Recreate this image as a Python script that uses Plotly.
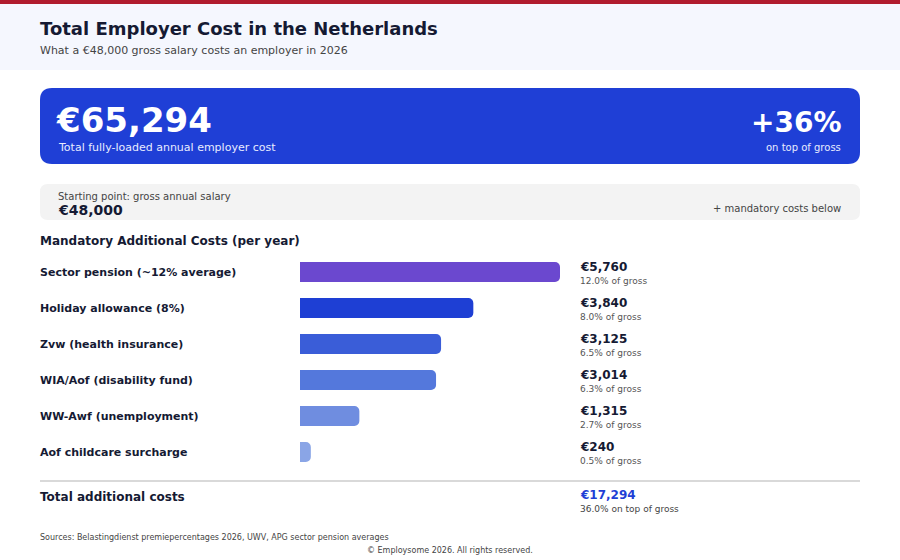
import plotly.graph_objects as go

W, H = 900, 560
FONT = "DejaVu Sans"

gross_salary = 48000
categories = ["Sector pension (~12% average)", "Holiday allowance (8%)", "Zvw (health insurance)",
              "WIA/Aof (disability fund)", "WW-Awf (unemployment)", "Aof childcare surcharge"]
amounts = [5760, 3840, 3125, 3014, 1315, 240]
bar_colors = ["#6B48CF", "#1E3FD4", "#3A5DD8", "#5478DC", "#6F8DE0", "#8AA5E6"]

total_add = sum(amounts)
total_cost = gross_salary + total_add
pct_total = total_add / gross_salary * 100


def X(px):
    return px / W


def Y(py):
    return 1 - py / H


def rrect(x0, y0, x1, y1, r):
    return (f"M {X(x0 + r)},{Y(y0)} L {X(x1 - r)},{Y(y0)} Q {X(x1)},{Y(y0)} {X(x1)},{Y(y0 + r)} "
            f"L {X(x1)},{Y(y1 - r)} Q {X(x1)},{Y(y1)} {X(x1 - r)},{Y(y1)} "
            f"L {X(x0 + r)},{Y(y1)} Q {X(x0)},{Y(y1)} {X(x0)},{Y(y1 - r)} "
            f"L {X(x0)},{Y(y0 + r)} Q {X(x0)},{Y(y0)} {X(x0 + r)},{Y(y0)} Z")


fig = go.Figure()
fig.add_trace(go.Bar(
    x=amounts, y=categories, orientation="h",
    marker=dict(color=bar_colors, line=dict(width=0)),
    hoverinfo="skip", showlegend=False,
))

shapes = [
    dict(type="rect", xref="paper", yref="paper", x0=0, x1=1, y0=Y(70), y1=Y(4),
         fillcolor="#F5F7FE", line=dict(width=0), layer="below"),
    dict(type="rect", xref="paper", yref="paper", x0=0, x1=1, y0=Y(4), y1=1,
         fillcolor="#B01C2E", line=dict(width=0), layer="below"),
    dict(type="path", xref="paper", yref="paper", path=rrect(40, 88, 860, 164, 12),
         fillcolor="#1F3FD6", line=dict(width=0), layer="below"),
    dict(type="path", xref="paper", yref="paper", path=rrect(40, 184, 860, 220, 8),
         fillcolor="#F3F3F3", line=dict(width=0), layer="below"),
    dict(type="line", xref="paper", yref="paper", x0=X(40), x1=X(860), y0=Y(481), y1=Y(481),
         line=dict(color="#CCCCCC", width=1.5)),
]


def txt(px, py, s, size, color="#151A33", bold=False, xanchor="left"):
    return dict(xref="paper", yref="paper", x=X(px), y=Y(py), text=f"<b>{s}</b>" if bold else s,
                showarrow=False, xanchor=xanchor, yanchor="middle",
                font=dict(family=FONT, size=size, color=color))


ann = [
    txt(38, 28, "Total Employer Cost in the Netherlands", 18, bold=True),
    txt(38, 50, "What a €48,000 gross salary costs an employer in 2026", 11, color="#444444"),
    txt(54, 120, f"€{total_cost:,}", 34, color="#FFFFFF", bold=True),
    txt(56, 148, "Total fully-loaded annual employer cost", 11, color="#E8ECFF"),
    txt(843, 122, f"+{pct_total:.0f}%", 28, color="#FFFFFF", bold=True, xanchor="right"),
    txt(843, 148, "on top of gross", 10, color="#E8ECFF", xanchor="right"),
    txt(56, 196, "Starting point: gross annual salary", 10, color="#444444"),
    txt(56, 210, f"€{gross_salary:,}", 14, bold=True),
    txt(843, 208, "+ mandatory costs below", 10, color="#444444", xanchor="right"),
    txt(38, 241, "Mandatory Additional Costs (per year)", 12, bold=True),
    txt(38, 497, "Total additional costs", 12, bold=True),
    txt(578, 495, f"€{total_add:,}", 12, color="#1F3FD6", bold=True),
    txt(578, 509, f"{pct_total:.1f}% on top of gross", 9, color="#444444"),
    txt(38, 537, "Sources: Belastingdienst premiepercentages 2026, UWV, APG sector pension averages", 8, color="#444444"),
    txt(450, 550, "© Employsome 2026. All rights reserved.", 8, color="#444444", xanchor="center"),
]

for cat, amt in zip(categories, amounts):
    ann.append(dict(xref="paper", yref="y", x=X(38), y=cat, text=f"<b>{cat}</b>", showarrow=False,
                    xanchor="left", yanchor="middle", font=dict(family=FONT, size=11, color="#151A33")))
    ann.append(dict(xref="paper", yref="y", x=X(578), y=cat, text=f"<b>€{amt:,}</b>", showarrow=False,
                    xanchor="left", yanchor="middle", yshift=5,
                    font=dict(family=FONT, size=12, color="#151A33")))
    ann.append(dict(xref="paper", yref="y", x=X(578), y=cat, text=f"{amt / gross_salary * 100:.1f}% of gross",
                    showarrow=False, xanchor="left", yanchor="middle", yshift=-9,
                    font=dict(family=FONT, size=9, color="#555555")))

fig.update_layout(
    width=W, height=H, margin=dict(l=0, r=0, t=0, b=0),
    paper_bgcolor="#FFFFFF", plot_bgcolor="rgba(0,0,0,0)",
    bargap=1 - 20 / 36, barcornerradius=5,
    xaxis=dict(domain=[X(300), X(560)], range=[0, max(amounts)], visible=False, fixedrange=True),
    yaxis=dict(domain=[Y(470), Y(254)], autorange="reversed", visible=False, fixedrange=True),
    shapes=shapes, annotations=ann,
    font=dict(family=FONT),
)

fig.write_html("out.html", config={"displayModeBar": False},
               post_script="document.body.style.margin='0px';")
